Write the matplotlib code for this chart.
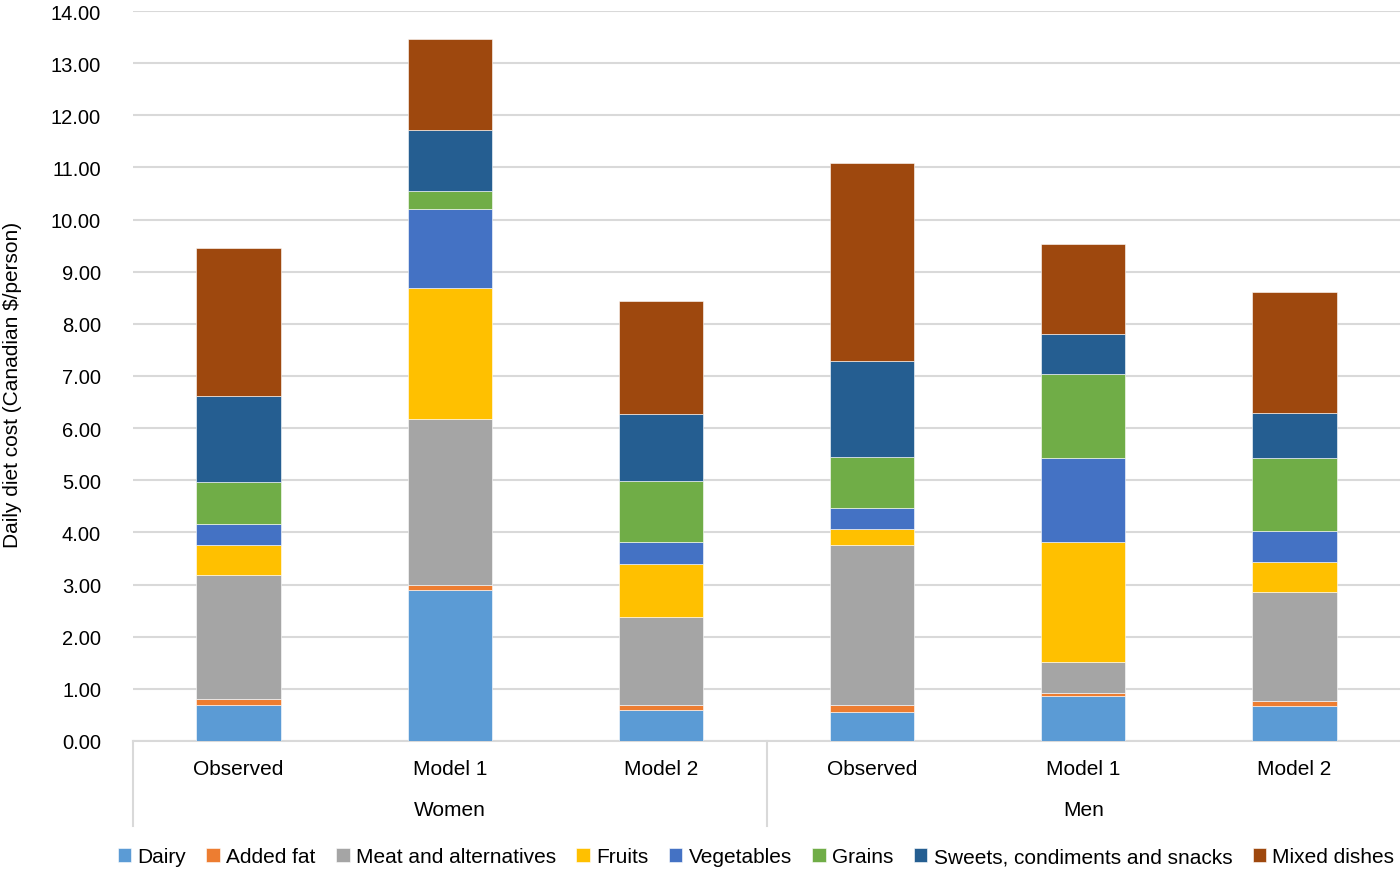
import matplotlib
matplotlib.use("Agg")
import matplotlib.pyplot as plt
import numpy as np
from matplotlib.lines import Line2D

plt.rcParams['font.family'] = ['Liberation Sans', 'DejaVu Sans']

categories = ["Observed", "Model 1", "Model 2", "Observed", "Model 1", "Model 2"]
groups = ["Women", "Men"]

dairy      = [0.69, 2.90, 0.59, 0.56, 0.86, 0.68]
added_fat  = [0.11, 0.09, 0.11, 0.14, 0.07, 0.08]
meat       = [2.39, 3.19, 1.67, 3.05, 0.59, 2.10]
fruits     = [0.57, 2.50, 1.02, 0.32, 2.29, 0.57]
vegetables = [0.40, 1.52, 0.42, 0.40, 1.61, 0.60]
grains     = [0.80, 0.35, 1.17, 0.98, 1.61, 1.40]
sweets     = [1.65, 1.17, 1.30, 1.84, 0.78, 0.87]
mixed      = [2.85, 1.74, 2.16, 3.80, 1.72, 2.32]

series_names = ["Dairy", "Added fat", "Meat and alternatives", "Fruits", "Vegetables",
                "Grains", "Sweets, condiments and snacks", "Mixed dishes"]
series = [dairy, added_fat, meat, fruits, vegetables, grains, sweets, mixed]
colors = ["#5B9BD5", "#ED7D31", "#A5A5A5", "#FFC000", "#4472C4", "#70AD47", "#255E91", "#9E480E"]

fig = plt.figure(figsize=(14, 8.7), dpi=100)
ax = fig.add_axes([133/1400, 1 - 742/870, 1 - 133/1400, 730/870])

x = np.arange(len(categories))
bottom = np.zeros(len(categories))
handles = []
for name, vals, c in zip(series_names, series, colors):
    b = ax.bar(x, vals, 0.40, bottom=bottom, color=c, label=name, zorder=3,
               edgecolor='white', linewidth=0.4)
    bottom += np.array(vals)
    handles.append(b)

ax.set_xlim(-0.5, 5.5)
ax.set_ylim(0, 14)
ax.set_yticks(np.arange(0, 14.01, 1))
ax.set_yticklabels([f"{v:.2f}" for v in np.arange(0, 14.01, 1)], fontsize=14.5)
ax.yaxis.grid(True, color="#D9D9D9", linewidth=1.5, zorder=0)
ax.set_axisbelow(True)
for s in ["top", "right", "left"]:
    ax.spines[s].set_visible(False)
ax.spines["bottom"].set_color("#D9D9D9")
ax.spines["bottom"].set_linewidth(1.5)
ax.tick_params(axis='y', length=0, pad=23)
ax.tick_params(axis='x', length=0)
ax.set_xticks([])

fig.text(13/1400, 1 - 385/870, "Daily diet cost (Canadian $/person)", rotation=90,
         ha='center', va='center', fontsize=15)

# multi-level category axis
trans = ax.get_xaxis_transform()
for xi, lab in zip(x, categories):
    ax.text(xi, -(770 - 742) / 730, lab, transform=trans, ha='center', va='center', fontsize=15)
for gi, g in enumerate(groups):
    ax.text(gi * 3 + 1, -(811 - 742) / 730, g, transform=trans, ha='center', va='center', fontsize=15)
for xv in [-0.5, 2.5]:
    ax.add_line(Line2D([xv, xv], [0, -(827 - 742) / 730], transform=trans, color="#D9D9D9",
                       linewidth=1.5, clip_on=False))

fig.legend(handles=handles, labels=series_names, loc='center', bbox_to_anchor=(0.54, 1 - 858/870),
           ncol=8, frameon=False, fontsize=15, handlelength=0.65, handleheight=0.65,
           handletextpad=0.3, columnspacing=0.98, borderaxespad=0)

fig.savefig("out.png", dpi=100)
